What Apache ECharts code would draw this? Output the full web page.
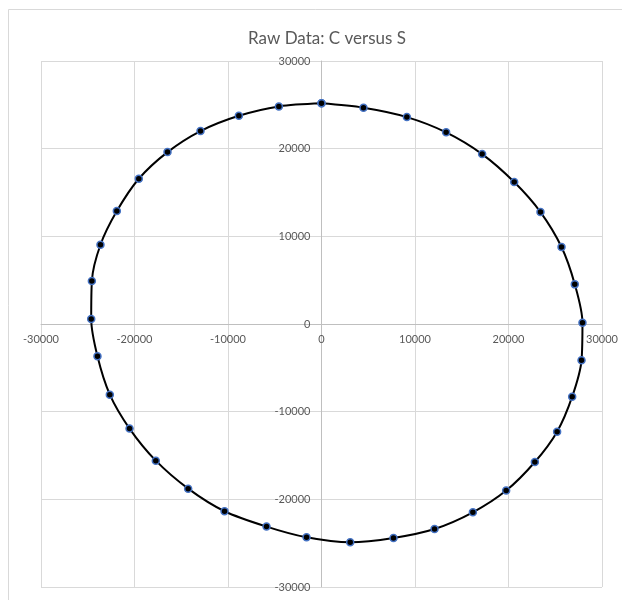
<!DOCTYPE html>
<html>
<head>
<meta charset="utf-8">
<script src="https://cdn.jsdelivr.net/npm/echarts@6/dist/echarts.min.js"></script>
<style>
html,body{margin:0;padding:0;background:#fff;}
#chart{width:622px;height:600px;}
</style>
</head>
<body>
<div id="chart"></div>
<script>
// S values (x) and C values (y), in drawing order
var sValues = [0, 4490, 9130, 13330, 17180, 20610, 23420, 25670, 27090, 27910,
  27810, 26810, 25200, 22820, 19750, 16190, 12090, 7700, 3070, -1600,
  -5880, -10370, -14260, -17720, -20530, -22640, -23960, -24630, -24560, -23640,
  -21890, -19540, -16470, -12940, -8840, -4560, 0];
var cValues = [25170, 24670, 23600, 21860, 19380, 16190, 12770, 8780, 4520, 150,
  -4140, -8290, -12280, -15740, -19000, -21480, -23380, -24400, -24900, -24330,
  -23110, -21360, -18780, -15590, -11930, -8060, -3690, 570, 4900, 9040,
  12880, 16570, 19610, 22010, 23750, 24820, 25170];
var axisMin = -30000, axisMax = 30000, axisStep = 10000;
var titleText = 'Raw Data: C versus S';

var data = sValues.map(function (s, i) { return [s, cValues[i]]; });

var gridLeft = 41, gridRight = 20, gridTop = 61, gridBottom = 13;
var W = 622, H = 600;
var plotW = W - gridLeft - gridRight, plotH = H - gridTop - gridBottom;
// axes cross at zero (middle of the symmetric range)
var xAxisOffset = -plotH * (0 - axisMin) / (axisMax - axisMin);
var yAxisOffset = -plotW * (0 - axisMin) / (axisMax - axisMin);

var chart = echarts.init(document.getElementById('chart'), null, {renderer: 'canvas'});
var fontFam = 'Lato, "Open Sans", sans-serif';
function fmt(v) { return String(v); }
chart.setOption({
  backgroundColor: '#ffffff',
  animation: false,
  title: {
    text: titleText,
    left: 248,
    top: 30,
    padding: 0,
    textStyle: {color: '#595959', fontSize: 17, fontWeight: 'normal', fontFamily: fontFam}
  },
  graphic: [{
    type: 'rect',
    shape: {x: 8.5, y: 9.5, width: 700, height: 700},
    style: {fill: 'none', stroke: '#d9d9d9', lineWidth: 1},
    silent: true, z: -10
  }],
  grid: {left: gridLeft, right: gridRight, top: gridTop, bottom: gridBottom, containLabel: false, outerBoundsMode: 'none'},
  xAxis: {
    type: 'value', min: axisMin, max: axisMax, interval: axisStep,
    position: 'bottom', offset: xAxisOffset,
    axisLine: {show: true, onZero: false, lineStyle: {color: '#bfbfbf', width: 1}},
    axisTick: {show: false},
    axisLabel: {color: '#595959', fontSize: 11, fontFamily: fontFam, margin: 10, formatter: fmt, showMinLabel: true, showMaxLabel: true},
    splitLine: {show: true, lineStyle: {color: '#d9d9d9', width: 1}}
  },
  yAxis: {
    type: 'value', min: axisMin, max: axisMax, interval: axisStep,
    position: 'left', offset: yAxisOffset,
    axisLine: {show: true, onZero: false, lineStyle: {color: '#bfbfbf', width: 1}},
    axisTick: {show: false},
    axisLabel: {color: '#595959', fontSize: 11, fontFamily: fontFam, margin: 11, formatter: fmt, showMinLabel: true, showMaxLabel: true},
    splitLine: {show: true, lineStyle: {color: '#d9d9d9', width: 1}}
  },
  series: [{
    type: 'line',
    data: data,
    smooth: 0.3,
    symbol: 'circle',
    symbolSize: 7,
    showAllSymbol: true,
    lineStyle: {color: '#000000', width: 2},
    itemStyle: {color: '#000000', borderColor: '#4472c4', borderWidth: 1.5},
    clip: false
  }]
});
</script>
</body>
</html>
